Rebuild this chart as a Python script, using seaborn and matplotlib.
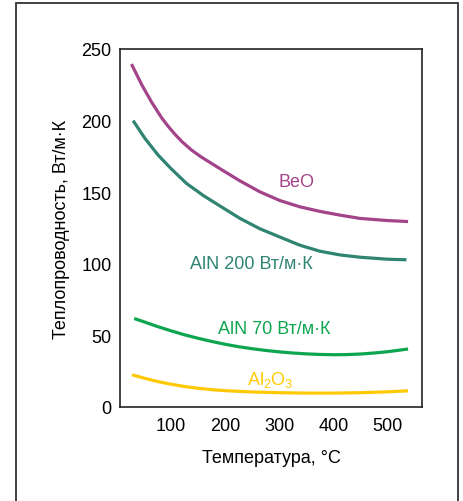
import numpy as np
import pandas as pd
import matplotlib
matplotlib.use("Agg")
import matplotlib.pyplot as plt
import seaborn as sns
from matplotlib.patches import Rectangle

# ---- data ----
beo_t = [27, 46, 64, 83, 95, 107, 120, 138, 155, 169, 194, 227, 264, 301, 338,
         375, 412, 449, 500, 538]
beo_v = [239.5, 225, 213, 201.8, 195.9, 190.6, 185.4, 179.4, 174.8, 171.5, 165.6,
         158, 150.3, 144.2, 139.8, 136.6, 134, 131.7, 130.2, 129.5]

aln200_t = [30, 52, 76, 100, 129, 160, 190, 227, 264, 301, 338, 375, 412, 449,
            500, 535]
aln200_v = [200, 187.5, 176, 166.5, 156, 147.6, 140.5, 131.8, 124.5, 118.7, 113,
            108.8, 106.2, 104.6, 103.2, 102.8]

aln70_t = [32, 50, 75, 100, 125, 150, 175, 200, 225, 250, 275, 300, 325, 350, 375,
           400, 425, 450, 475, 500, 538]
aln70_v = [61.8, 59.5, 56.2, 53.2, 50.4, 48, 45.8, 43.8, 42.1, 40.7, 39.5, 38.5,
           37.7, 37.1, 36.7, 36.5, 36.6, 37.0, 37.7, 38.6, 40.5]

al2o3_t = [28, 50, 75, 100, 125, 150, 175, 200, 250, 300, 350, 400, 450, 500, 538]
al2o3_v = [22.5, 20.2, 17.8, 15.9, 14.3, 13.1, 12.1, 11.4, 10.5, 10.0, 9.7, 9.7,
           10.0, 10.6, 11.3]

series_names = ["BeO", "AlN 200", "AlN 70", "Al2O3"]
colors = ["#A3448A", "#2F8472", "#0DA54F", "#FFCA05"]

x_ticks = [100, 200, 300, 400, 500]
y_ticks = [0, 50, 100, 150, 200, 250]
x_label = "Температура, °C"
y_label = "Теплопроводность, Вт/м·К"

labels = ["BeO", "AlN 200 Вт/м·К", "AlN 70 Вт/м·К",
          r"Al$_\mathregular{2}$O$_\mathregular{3}$"]
label_pos = [(331, 157.5), (248, 100.4), (291, 54.7), (284, 19.5)]

# ---- build long-form table ----
frames = []
for name, t, v in zip(series_names, [beo_t, aln200_t, aln70_t, al2o3_t],
                      [beo_v, aln200_v, aln70_v, al2o3_v]):
    frames.append(pd.DataFrame({"T": t, "k": v, "mat": name}))
df = pd.concat(frames, ignore_index=True)

sns.set_theme(style="white")
plt.rcParams["font.family"] = ["Liberation Sans", "DejaVu Sans"]
plt.rcParams["mathtext.fontset"] = "custom"
plt.rcParams["mathtext.rm"] = "Liberation Sans"
plt.rcParams["mathtext.it"] = "Liberation Sans"

fig = plt.figure(figsize=(4.64, 5.02), dpi=100)
ax = fig.add_axes([120 / 464, 1 - 408 / 502, 302 / 464, 358 / 502])

# outer frame
fig.patches.append(Rectangle((16 / 464, -0.05), 442 / 464, 1.05 - 4 / 502,
                             transform=fig.transFigure, fill=False,
                             edgecolor="#333333", linewidth=1.3, clip_on=False))

sns.lineplot(data=df, x="T", y="k", hue="mat", palette=colors,
             hue_order=series_names, linewidth=2.3, legend=False, ax=ax,
             sort=True, estimator=None)
for ln in ax.lines:
    ln.set_solid_capstyle("butt")
    ln.set_solid_joinstyle("round")

ax.set_xlim(5.8, 563.7)
ax.set_ylim(0, 250)
ax.set_xticks(x_ticks)
ax.set_yticks(y_ticks)
ax.tick_params(direction="in", length=6, width=1, colors="black",
               labelsize=13, pad=6)
ax.tick_params(axis="x", pad=7)
for s in ax.spines.values():
    s.set_color("#222222")
    s.set_linewidth(1.2)

ax.set_xlabel(x_label, fontsize=13, color="black", labelpad=11)
ax.set_ylabel(y_label, fontsize=13, color="black", labelpad=8)

for lab, (x, y), c in zip(labels, label_pos, colors):
    ax.text(x, y, lab, color=c, fontsize=13, ha="center", va="center")

fig.savefig("out.png", dpi=100)
